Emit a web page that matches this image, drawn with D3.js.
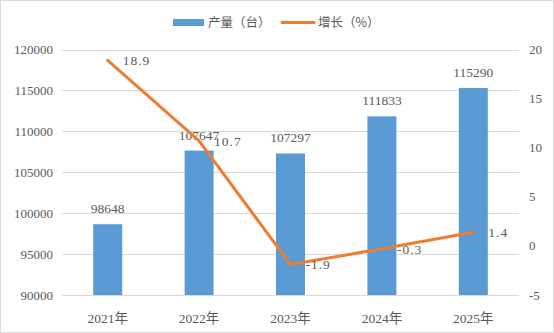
<!DOCTYPE html>
<html>
<head>
<meta charset="utf-8">
<script src="https://cdn.jsdelivr.net/npm/d3@7"></script>
<style>
  body { margin: 0; background: #fff; }
  text { font-family: "Liberation Serif", "Noto Sans CJK SC", serif; fill: #595959; }
</style>
</head>
<body>
<div id="chart"></div>
<script>
var years = ["2021年", "2022年", "2023年", "2024年", "2025年"];
var output = [98648, 107647, 107297, 111833, 115290];
var growth = [18.9, 10.7, -1.9, -0.3, 1.4];
var leftTicks = [90000, 95000, 100000, 105000, 110000, 115000, 120000];
var rightTicks = [-5, 0, 5, 10, 15, 20];

var W = 554, H = 333;
var margin = {top: 49.5, right: 35, bottom: 38, left: 62};

var svg = d3.select("#chart").append("svg")
  .attr("width", W)
  .attr("height", H);

// outer border
svg.append("rect")
  .attr("x", 0.5).attr("y", 0.5)
  .attr("width", W - 1).attr("height", H - 1)
  .attr("fill", "#fff").attr("stroke", "#d9d9d9");

var x = d3.scaleBand().domain(years).range([margin.left, W - margin.right]);
var yL = d3.scaleLinear().domain([90000, 120000]).range([H - margin.bottom, margin.top]);
var yR = d3.scaleLinear().domain([-5, 20]).range([H - margin.bottom, margin.top]);

// gridlines
svg.selectAll("line.grid")
  .data(leftTicks)
  .enter().append("line")
  .attr("class", "grid")
  .attr("x1", margin.left).attr("x2", W - margin.right)
  .attr("y1", function(d) { return Math.round(yL(d)) + 0.5; })
  .attr("y2", function(d) { return Math.round(yL(d)) + 0.5; })
  .attr("stroke", "#d9d9d9");

// left axis labels
svg.selectAll("text.yl")
  .data(leftTicks)
  .enter().append("text")
  .attr("class", "yl")
  .attr("x", 53)
  .attr("y", function(d) { return yL(d); })
  .attr("dy", "0.35em")
  .attr("text-anchor", "end")
  .style("font-size", "13px")
  .text(function(d) { return d; });

// right axis labels
svg.selectAll("text.yr")
  .data(rightTicks)
  .enter().append("text")
  .attr("class", "yr")
  .attr("x", 529)
  .attr("y", function(d) { return yR(d); })
  .attr("dy", "0.35em")
  .attr("text-anchor", "start")
  .style("font-size", "13px")
  .text(function(d) { return d; });

// x labels
svg.selectAll("text.xl")
  .data(years)
  .enter().append("text")
  .attr("class", "xl")
  .attr("x", function(d) { return x(d) + x.bandwidth() / 2; })
  .attr("y", 323)
  .attr("text-anchor", "middle")
  .style("font-size", "13.5px")
  .text(function(d) { return d; });

// bars
var bw = 29;
svg.selectAll("rect.bar")
  .data(output)
  .enter().append("rect")
  .attr("class", "bar")
  .attr("x", function(d, i) { return x(years[i]) + x.bandwidth() / 2 - bw / 2; })
  .attr("y", function(d) { return yL(d); })
  .attr("width", bw)
  .attr("height", function(d) { return yL(90000) - yL(d); })
  .attr("fill", "#5b9bd5");

// bar value labels
svg.selectAll("text.bl")
  .data(output)
  .enter().append("text")
  .attr("class", "bl")
  .attr("x", function(d, i) { return x(years[i]) + x.bandwidth() / 2; })
  .attr("y", function(d) { return yL(d) - 11; })
  .attr("text-anchor", "middle")
  .style("font-size", "13.5px")
  .text(function(d) { return d; });

// growth line
var line = d3.line()
  .x(function(d, i) { return x(years[i]) + x.bandwidth() / 2; })
  .y(function(d) { return yR(d); });

svg.append("path")
  .datum(growth)
  .attr("d", line)
  .attr("fill", "none")
  .attr("stroke", "#ed7d31")
  .attr("stroke-width", 3)
  .attr("stroke-linejoin", "round")
  .attr("stroke-linecap", "round");

// growth labels
svg.selectAll("text.gl")
  .data(growth)
  .enter().append("text")
  .attr("class", "gl")
  .attr("x", function(d, i) { return x(years[i]) + x.bandwidth() / 2 + 15; })
  .attr("y", function(d) { return yR(d); })
  .attr("dy", "0.35em")
  .style("font-size", "13.5px")
  .style("letter-spacing", "1px")
  .text(function(d) { return d.toFixed(1); });

// legend
var lg = svg.append("g");
lg.append("rect")
  .attr("x", 173).attr("y", 19).attr("width", 31).attr("height", 7)
  .attr("fill", "#5b9bd5");
lg.append("text")
  .attr("x", 208).attr("y", 23).attr("dy", "0.35em")
  .style("font-family", "'Noto Sans CJK SC', sans-serif")
  .style("font-size", "12.5px")
  .text("产量（台）");
lg.append("line")
  .attr("x1", 282).attr("x2", 314).attr("y1", 22.5).attr("y2", 22.5)
  .attr("stroke", "#ed7d31").attr("stroke-width", 3).attr("stroke-linecap", "round");
lg.append("text")
  .attr("x", 318).attr("y", 23).attr("dy", "0.35em")
  .style("font-family", "'Noto Sans CJK SC', sans-serif")
  .style("font-size", "12.5px")
  .text("增长（%）");
</script>
</body>
</html>
